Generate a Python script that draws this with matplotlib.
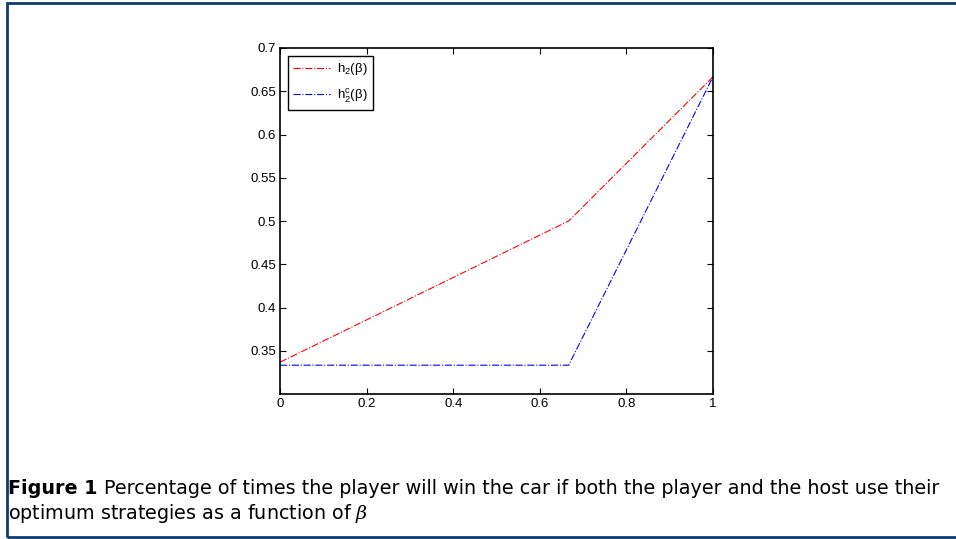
import matplotlib
matplotlib.use("Agg")
import matplotlib.pyplot as plt
from matplotlib.patches import Rectangle

# values
beta = [0.0, 0.6667, 1.0]
h2 = [0.3367, 0.5, 0.6667]
h2c = [0.3333, 0.3333, 0.6667]
xticks = [0, 0.2, 0.4, 0.6, 0.8, 1]
xticklabels = ["0", "0.2", "0.4", "0.6", "0.8", "1"]
yticks = [0.35, 0.4, 0.45, 0.5, 0.55, 0.6, 0.65, 0.7]
yticklabels = ["0.35", "0.4", "0.45", "0.5", "0.55", "0.6", "0.65", "0.7"]

plt.rcParams["mathtext.fontset"] = "custom"
plt.rcParams["mathtext.rm"] = "Liberation Sans"
plt.rcParams["mathtext.it"] = "DejaVu Serif:italic"

W, H = 956, 539
fig = plt.figure(figsize=(W / 100, H / 100), dpi=100)

# outer frame of the figure box
fig.patches.append(Rectangle((6.5 / W, 2.5 / H), (W + 20) / W, (H - 5) / H,
                             transform=fig.transFigure, fill=False,
                             edgecolor="#0d3b6e", linewidth=2.0))

ax = fig.add_axes([280 / W, 1 - 394 / H, (713 - 280) / W, (394 - 48) / H])
ax.plot(beta, h2, color="red", linestyle="-.", linewidth=0.8,
        label=r"h$_\mathrm{2}$(β)")
ax.plot(beta, h2c, color="blue", linestyle="-.", linewidth=0.8,
        label=r"h$_\mathrm{2}^\mathrm{c}$(β)")
ax.set_xlim(0, 1)
ax.set_ylim(0.3, 0.7)
ax.set_xticks(xticks)
ax.set_xticklabels(xticklabels)
ax.set_yticks(yticks)
ax.set_yticklabels(yticklabels)
ax.tick_params(direction="in", top=True, right=True, length=4, width=0.8,
               labelsize=9.5, pad=3)
for lbl in ax.get_xticklabels() + ax.get_yticklabels():
    lbl.set_family("Liberation Sans")
for s in ax.spines.values():
    s.set_linewidth(1.2)

leg = ax.legend(loc="upper left", prop={"family": "Liberation Sans", "size": 9.5},
                fancybox=False, edgecolor="black", framealpha=1,
                handlelength=2.8, handletextpad=0.5, borderaxespad=0.6,
                labelspacing=0.75)
leg.get_frame().set_linewidth(1.0)

# caption, stretched to the same line width as the reference
fs = 12
y1 = 1 - 494 / H
y2 = 1 - 519 / H
head = "Percentage of times the player will win the car if both the player and the host use their"
t1 = fig.text(8 / W, y1, "Figure 1", fontsize=fs, fontweight="bold",
              family="DejaVu Sans")
fig.canvas.draw()
bb = t1.get_window_extent()
t2 = fig.text((bb.x1 + 7) / W, y1, head, fontsize=fs, family="DejaVu Sans")
fig.canvas.draw()
scale = (940 - 8) / (t2.get_window_extent().x1 - 8)
fs = fs * scale
t1.set_fontsize(fs)
fig.canvas.draw()
bb = t1.get_window_extent()
t2.set_fontsize(fs)
t2.set_x((bb.x1 + 7) / W)
fig.text(8 / W, y2, r"optimum strategies as a function of $\beta$",
         fontsize=fs, family="DejaVu Sans")

fig.savefig("out.png", dpi=100)
